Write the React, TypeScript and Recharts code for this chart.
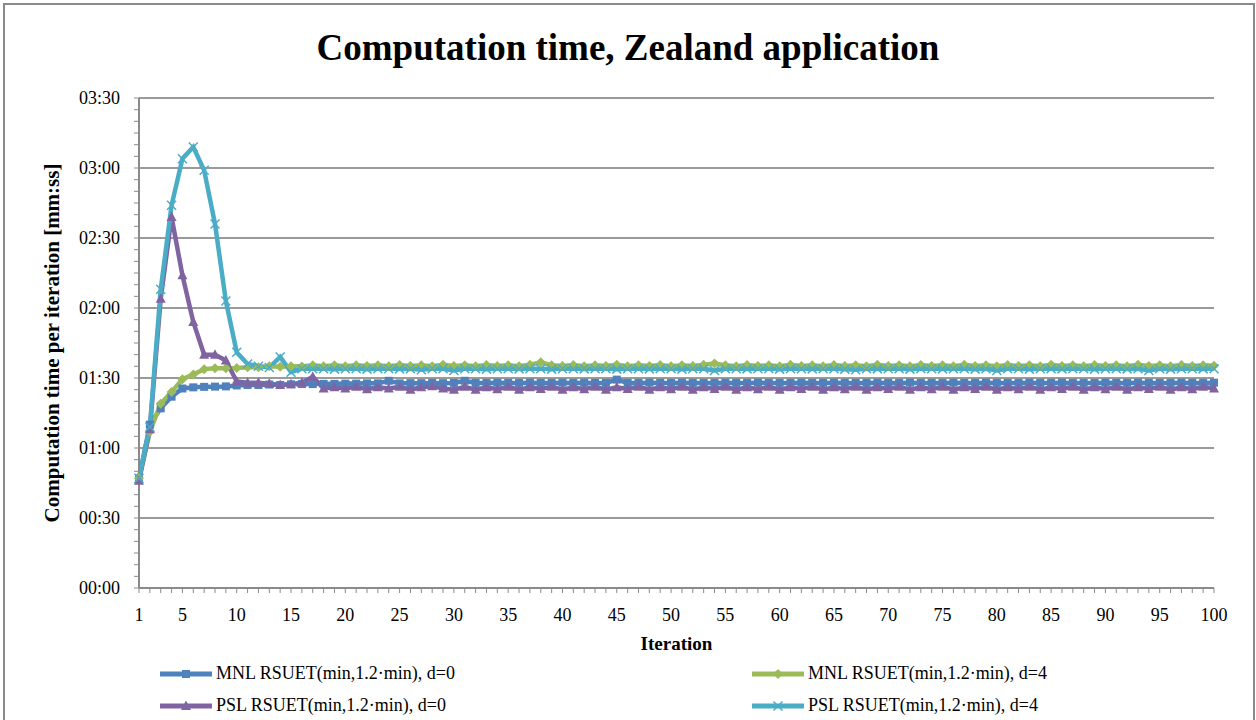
import { LineChart, Line, XAxis, YAxis, CartesianGrid, Legend } from "recharts";

const iterations = Array.from({ length: 100 }, (_, i) => i + 1);

const xLabelTicks = [1, 5, 10, 15, 20, 25, 30, 35, 40, 45, 50, 55, 60, 65, 70, 75, 80, 85, 90, 95, 100];
const yLabelTicks = [0, 30, 60, 90, 120, 150, 180, 210];

// seconds per iteration
const mnlD0 = [
  47, 70, 77, 82, 85.5, 86, 86.2, 86.3, 86.4, 86.8,
  87, 87, 87.2, 87, 87.3, 87.4, 87.4, 87.5, 87.5, 87.6,
  87.6, 87.7, 87.7, 88.8, 87.7, 87.8, 87.8, 87.9, 87.8, 87.9,
  88.8, 87.9, 87.9, 88, 87.9, 87.9, 88, 87.9, 87.9, 88,
  87.9, 88, 87.9, 87.9, 89.3, 87.9, 87.9, 88, 87.9, 87.9,
  88, 87.9, 87.9, 87.9, 88, 87.9, 87.9, 88, 87.9, 87.9,
  87.9, 88, 87.9, 87.9, 88, 87.9, 87.9, 87.9, 88, 87.9,
  87.9, 88, 87.9, 87.9, 87.9, 88, 87.9, 87.9, 88, 87.9,
  87.9, 87.9, 88, 87.9, 87.9, 88, 87.9, 87.9, 87.9, 88,
  87.9, 87.9, 88, 87.9, 87.9, 87.9, 88, 87.9, 87.9, 88,
];
const mnlD4 = [
  47, 67, 79, 84, 89.5, 91.5, 93.8, 94.2, 94.2, 94.3,
  94.6, 94.6, 95, 94.8, 95, 94.9, 95.5, 95, 95.5, 95,
  95.5, 95.1, 95.5, 95, 95.6, 95.1, 95.5, 95, 95.7, 95.1,
  95.5, 95, 95.6, 95.1, 95.5, 95, 95.7, 96.7, 95.5, 95.1,
  95.6, 95, 95.5, 95.1, 95.7, 95, 95.5, 95.1, 95.6, 95,
  95.5, 95.1, 95.7, 96.2, 95.5, 95, 95.6, 95.1, 95.5, 95,
  95.7, 95.1, 95.5, 95, 95.6, 95.1, 95.5, 95, 95.7, 95.1,
  95.5, 95, 95.6, 95.1, 95.5, 95, 95.7, 95.1, 95.5, 95,
  95.6, 95.1, 95.5, 95, 95.7, 95.1, 95.5, 95, 95.6, 95.1,
  95.5, 95, 95.7, 95.1, 95.5, 95, 95.6, 95.1, 95.5, 95.3,
];
const pslD0 = [
  46, 68, 124, 159, 134, 114, 100, 100, 97.5, 88.5,
  88, 88, 87.5, 87, 87.3, 88, 90.5, 85.5, 86, 85.5,
  86.2, 85.2, 86, 85.5, 86.2, 85, 86, 86.5, 85.5, 85,
  86.2, 85, 86, 85.2, 86.2, 85, 86, 85.3, 86.2, 85,
  86, 85.2, 86.2, 85, 86, 85.3, 86.2, 85, 86, 85.2,
  86.2, 85, 86, 85.3, 86.2, 85, 86, 85.2, 86.2, 85,
  86, 85.3, 86.2, 85, 86, 85.2, 86.2, 85, 86, 85.3,
  86.2, 85, 86, 85.2, 86.2, 85, 86, 85.3, 86.2, 85,
  86, 85.2, 86.2, 85, 86, 85.3, 86.2, 85, 86, 85.2,
  86.2, 85, 86, 85.3, 86.2, 85, 86, 85.2, 86.2, 85.5,
];
const pslD4 = [
  47, 69, 128, 164, 184, 189, 179, 156, 123, 101,
  96, 95, 94.5, 99, 92.5, 94, 94, 94, 93.8, 94,
  94, 93.8, 94, 94, 93.9, 94, 93.5, 94, 94, 93.2,
  94, 94, 93.8, 94, 94, 93.9, 94, 94, 93.8, 94,
  94, 93.9, 94, 94, 93.8, 94, 94, 93.9, 94, 94,
  93.8, 94, 94, 93.2, 94, 94, 93.9, 94, 94, 93.8,
  94, 94, 93.9, 94, 94, 93.8, 93.5, 94, 93.9, 94,
  94, 93.8, 94, 94, 93.9, 94, 94, 93.8, 94, 93.2,
  94, 94, 93.8, 94, 94, 93.9, 94, 94, 93.8, 94,
  94, 93.9, 94, 93.2, 94, 93.8, 94, 94, 93.9, 94,
];

const seriesNames = [
  "MNL RSUET(min,1.2·min), d=0",
  "MNL RSUET(min,1.2·min), d=4",
  "PSL RSUET(min,1.2·min), d=0",
  "PSL RSUET(min,1.2·min), d=4",
];
const colors = ["#4F81BD", "#9BBB59", "#8064A2", "#4BACC6"];
const markers = ["square", "diamond", "triangle", "cross"];

const data = iterations.map((it, i) => ({
  iteration: it,
  mnlD0: mnlD0[i],
  mnlD4: mnlD4[i],
  pslD0: pslD0[i],
  pslD4: pslD4[i],
}));

const FONT = "'Liberation Serif', 'Times New Roman', serif";

const fmt = (s: number) => {
  const m = Math.floor(s / 60);
  const r = Math.round(s % 60);
  return `${String(m).padStart(2, "0")}:${String(r).padStart(2, "0")}`;
};

const Marker = ({ cx, cy, kind, color }: any) => {
  if (cx == null || cy == null) return null;
  if (kind === "square") return <rect x={cx - 4} y={cy - 4} width={8} height={8} fill={color} />;
  if (kind === "diamond")
    return <path d={`M${cx},${cy - 5}L${cx + 5},${cy}L${cx},${cy + 5}L${cx - 5},${cy}Z`} fill={color} />;
  if (kind === "triangle")
    return <path d={`M${cx},${cy - 5.5}L${cx + 5},${cy + 4}L${cx - 5},${cy + 4}Z`} fill={color} />;
  return (
    <path
      d={`M${cx - 4.5},${cy - 4.5}L${cx + 4.5},${cy + 4.5}M${cx - 4.5},${cy + 4.5}L${cx + 4.5},${cy - 4.5}`}
      stroke={color}
      strokeWidth={1.5}
    />
  );
};

const XTick = ({ x, y, payload }: any) =>
  xLabelTicks.includes(payload.value) ? (
    <text x={x} y={y} dy="0.71em" textAnchor="middle" fontFamily={FONT} fontSize={18} fill="#000">
      {payload.value}
    </text>
  ) : null;

const YTick = ({ x, y, payload }: any) =>
  yLabelTicks.includes(payload.value) ? (
    <text x={x} y={y} dy="0.35em" textAnchor="end" fontFamily={FONT} fontSize={18} fill="#000">
      {fmt(payload.value)}
    </text>
  ) : null;

const LegendBox = () => (
  <div style={{ fontFamily: FONT, fontSize: 18, color: "#000", position: "relative", width: 1100, height: 60 }}>
    {seriesNames.map((name, i) => (
      <div
        key={name}
        style={{
          position: "absolute",
          left: i % 2 === 0 ? 0 : 592,
          top: i < 2 ? 0 : 32,
          display: "flex",
          alignItems: "center",
          whiteSpace: "nowrap",
        }}
      >
        <svg width={56} height={14} style={{ marginRight: 2 }}>
          <line x1={2} y1={7} x2={54} y2={7} stroke={colors[i]} strokeWidth={5} />
          <Marker cx={28} cy={7} kind={markers[i]} color={colors[i]} />
        </svg>
        <span>{name}</span>
      </div>
    ))}
  </div>
);

const keys = ["mnlD0", "mnlD4", "pslD0", "pslD4"];

export default function App() {
  return (
    <div style={{ position: "absolute", left: 0, top: 0, width: 1256, height: 720, overflow: "hidden", background: "#fff" }}>
      <div
        style={{
          position: "absolute",
          left: 3,
          top: 3,
          width: 1248,
          height: 717,
          borderTop: "2px solid #8a8a8a",
          borderLeft: "2px solid #8a8a8a",
          borderRight: "2px solid #8a8a8a",
        }}
      />
      <div
        style={{
          position: "absolute",
          left: 0,
          top: 26,
          width: 1256,
          textAlign: "center",
          fontFamily: FONT,
          fontWeight: "bold",
          fontSize: 37,
          lineHeight: "44px",
          color: "#000",
        }}
      >
        Computation time, Zealand application
      </div>
      <LineChart
        width={1256}
        height={720}
        data={data}
        margin={{ top: 98, right: 42, bottom: 92, left: 0 }}
        style={{ position: "absolute", left: 0, top: 0 }}
      >
        <CartesianGrid
          vertical={false}
          horizontalValues={[30, 60, 90, 120, 150, 180, 210]}
          stroke="#9a9a9a"
          strokeWidth={2}
        />
        <XAxis
          dataKey="iteration"
          type="number"
          domain={[1, 100]}
          ticks={iterations}
          interval={0}
          tick={<XTick />}
          tickSize={5}
          tickMargin={15}
          height={40}
          axisLine={{ stroke: "#8a8a8a", strokeWidth: 2 }}
          tickLine={{ stroke: "#8a8a8a" }}
          label={({ viewBox }: any) => (
            <text
              x={viewBox.x + viewBox.width / 2}
              y={viewBox.y + 62}
              textAnchor="middle"
              fontFamily={FONT}
              fontWeight="bold"
              fontSize={19}
              fill="#000"
            >
              Iteration
            </text>
          )}
        />
        <YAxis
          type="number"
          domain={[0, 210]}
          ticks={Array.from({ length: 43 }, (_, i) => i * 5)}
          interval={0}
          tick={<YTick />}
          tickSize={5}
          tickMargin={14}
          width={139}
          axisLine={{ stroke: "#8a8a8a", strokeWidth: 2 }}
          tickLine={{ stroke: "#8a8a8a" }}
          label={({ viewBox }: any) => {
            const cx = viewBox.x + 52;
            const cy = viewBox.y + viewBox.height / 2;
            return (
              <text
                x={cx}
                y={cy}
                transform={`rotate(-90, ${cx}, ${cy})`}
                textAnchor="middle"
                dominantBaseline="central"
                fontFamily={FONT}
                fontWeight="bold"
                fontSize={21}
                fill="#000"
              >
                Computation time per iteration [mm:ss]
              </text>
            );
          }}
        />
        {keys.map((k, i) => (
          <Line
            key={k}
            dataKey={k}
            name={seriesNames[i]}
            type="linear"
            stroke={colors[i]}
            strokeWidth={4.5}
            isAnimationActive={false}
            dot={(p: any) => <Marker key={`${k}-${p.index}`} cx={p.cx} cy={p.cy} kind={markers[i]} color={colors[i]} />}
            activeDot={false}
          />
        ))}
        <Legend
          layout="horizontal"
          verticalAlign="middle"
          align="center"
          content={() => <LegendBox />}
          wrapperStyle={{ top: 663, left: 158, width: 1100, height: 60 }}
        />
      </LineChart>
    </div>
  );
}
